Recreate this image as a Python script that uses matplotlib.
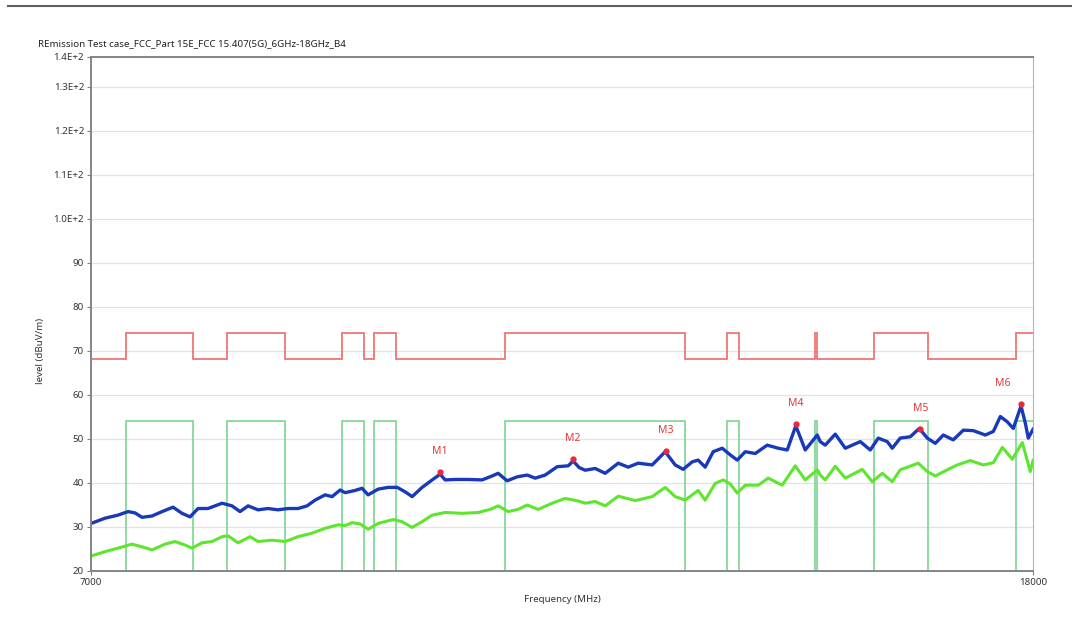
import numpy as np
import matplotlib
matplotlib.use("Agg")
import matplotlib.pyplot as plt
from matplotlib.lines import Line2D
from matplotlib.ticker import NullLocator

plt.rcParams["font.family"] = ["Noto Sans", "DejaVu Sans"]

# ---- data ----
title = "REmission Test case_FCC_Part 15E_FCC 15.407(5G)_6GHz-18GHz_B4"

# restricted bands (MHz): limit is 74 / 54 inside, 68.2 outside
band_lo = [7250, 8025, 9000, 9300, 10600, 13250, 14470, 15350, 17700]
band_hi = [7750, 8500, 9200, 9500, 12700, 13400, 14500, 16200, 18000]
peak_in, peak_out = 74.0, 68.2
avg_in, avg_out = 54.0, 0.0

peak_freq = [7000, 7099, 7192, 7265, 7316, 7367, 7442, 7517, 7600, 7669,
             7731, 7793, 7871, 7983, 8063, 8128, 8194, 8276, 8360, 8444,
             8529, 8615, 8693, 8763, 8852, 8914, 8986, 9031, 9122, 9186,
             9242, 9335, 9429, 9515, 9591, 9659, 9756, 9855, 9934, 9984,
             10085, 10217, 10361, 10466, 10529, 10624, 10732, 10840, 10927, 11037,
             11171, 11295, 11351, 11420, 11489, 11605, 11722, 11876, 11995, 12116,
             12287, 12449, 12574, 12675, 12790, 12867, 12958, 13062, 13181, 13287,
             13381, 13489, 13625, 13789, 13942, 14069, 14190, 14325, 14499, 14542,
             14615, 14763, 14912, 15138, 15290, 15413, 15553, 15631, 15757, 15916,
             16060, 16190, 16320, 16452, 16617, 16785, 16954, 17159, 17298, 17420,
             17542, 17648, 17785, 17862, 17915, 18000]
peak_val = [30.8, 32.0, 32.7, 33.5, 33.2, 32.2, 32.5, 33.5, 34.5, 33.1,
            32.3, 34.2, 34.2, 35.4, 34.8, 33.5, 34.8, 33.9, 34.2, 33.9,
            34.2, 34.2, 34.8, 36.1, 37.3, 36.9, 38.4, 37.8, 38.3, 38.8,
            37.3, 38.6, 39.0, 39.0, 38.0, 36.9, 39.0, 40.7, 42.0, 40.7,
            40.8, 40.8, 40.7, 41.6, 42.2, 40.5, 41.4, 41.8, 41.1, 41.8,
            43.7, 43.9, 45.0, 43.5, 42.9, 43.3, 42.2, 44.5, 43.6, 44.5,
            44.1, 47.1, 44.1, 43.1, 44.8, 45.2, 43.6, 47.1, 47.9, 46.4,
            45.2, 47.1, 46.7, 48.6, 47.9, 47.5, 53.0, 47.5, 50.9, 49.4,
            48.6, 51.1, 47.9, 49.4, 47.5, 50.2, 49.4, 47.9, 50.2, 50.5,
            52.4, 50.2, 49.0, 50.9, 49.8, 52.0, 51.9, 50.9, 51.7, 55.1,
            53.9, 52.4, 57.5, 53.6, 50.2, 52.2]

avg_freq = [7000, 7099, 7192, 7294, 7367, 7442, 7539, 7615, 7692, 7746,
            7824, 7903, 7983, 8031, 8112, 8210, 8276, 8393, 8504, 8615,
            8737, 8852, 8968, 9031, 9095, 9168, 9242, 9335, 9477, 9562,
            9659, 9756, 9855, 9984, 10156, 10320, 10445, 10529, 10635, 10742,
            10840, 10960, 11115, 11261, 11409, 11489, 11605, 11722, 11876, 12080,
            12287, 12449, 12574, 12700, 12867, 12958, 13088, 13194, 13287, 13381,
            13489, 13666, 13803, 13998, 14182, 14325, 14499, 14542, 14615, 14763,
            14912, 15168, 15321, 15475, 15631, 15757, 16044, 16190, 16320, 16518,
            16684, 16903, 17125, 17298, 17455, 17630, 17808, 17951, 18000]
avg_val = [23.4, 24.4, 25.2, 26.1, 25.5, 24.8, 26.1, 26.7, 25.9, 25.2,
           26.4, 26.7, 27.8, 28.0, 26.4, 27.8, 26.7, 27.0, 26.7, 27.8,
           28.6, 29.7, 30.5, 30.3, 31.0, 30.7, 29.5, 30.8, 31.7, 31.2,
           29.9, 31.2, 32.7, 33.3, 33.1, 33.3, 34.0, 34.8, 33.5, 34.0,
           35.0, 34.0, 35.4, 36.5, 35.9, 35.4, 35.8, 34.8, 37.0, 36.0,
           36.9, 39.0, 36.9, 36.1, 38.3, 36.1, 39.9, 40.7, 39.8, 37.7,
           39.5, 39.5, 41.1, 39.5, 43.9, 40.7, 43.0, 41.8, 40.7, 43.8,
           41.1, 43.1, 40.3, 42.2, 40.3, 43.0, 44.5, 42.6, 41.6, 43.0,
           44.1, 45.1, 44.1, 44.6, 48.1, 45.4, 49.2, 42.6, 45.1]

marker_names = ["M1", "M2", "M3", "M4", "M5", "M6"]
marker_freq = [9934, 11351, 12460, 14192, 16076, 17785]
marker_val = [42.4, 45.4, 47.2, 53.3, 52.2, 57.9]

y_ticks = [20, 30, 40, 50, 60, 70, 80, 90, 100, 110, 120, 130, 136.8]
y_labels = ["20", "30", "40", "50", "60", "70", "80", "90",
            "1.0E+2", "1.1E+2", "1.2E+2", "1.3E+2", "1.4E+2"]
x_ticks = [7000, 18000]
x_labels = ["7000", "18000"]

# ---- limit lines as stairs over band edges ----
edges = [7000]
peak_lim = []
avg_lim = []
for lo, hi in zip(band_lo, band_hi):
    if lo > edges[-1]:
        edges.append(lo)
        peak_lim.append(peak_out)
        avg_lim.append(avg_out)
    edges.append(hi)
    peak_lim.append(peak_in)
    avg_lim.append(avg_in)

# ---- figure ----
fig = plt.figure(figsize=(10.72, 6.35), dpi=100)
ax = fig.add_axes([91 / 1072, 1 - 571 / 635, 942 / 1072, 514 / 635])

ax.set_xscale("log")
ax.set_xlim(7000, 18000)
ax.set_ylim(20, 136.8)

ax.set_yticks(y_ticks)
ax.set_yticklabels(y_labels)
ax.set_xticks(x_ticks)
ax.set_xticklabels(x_labels)
ax.xaxis.set_minor_locator(NullLocator())
ax.grid(axis="y", color="#e3e3e3", lw=0.9)
ax.set_axisbelow(True)

ax.tick_params(axis="both", length=3, width=0.8, color="#808080",
               labelsize=7, labelcolor="#333333", pad=2)

for side in ["left", "bottom", "top"]:
    ax.spines[side].set_color("#858585")
    ax.spines[side].set_linewidth(1.4)
ax.spines["right"].set_color("#b5b5b5")
ax.spines["right"].set_linewidth(0.8)

ax.stairs(avg_lim, edges, color="#7ad690", lw=1.2, baseline=None)
ax.stairs(peak_lim, edges, color="#f06a6a", lw=1.2, baseline=None)

ax.plot(avg_freq, avg_val, color="#5ee62e", lw=2.2)
ax.plot(peak_freq, peak_val, color="#1a38ba", lw=2.4)

ax.plot(marker_freq, marker_val, ls="none", marker="o", ms=3.5,
        color="#e8283c", mec="#e8283c")
for i, name in enumerate(marker_names):
    dx = -13 if i == len(marker_names) - 1 else 0
    ax.annotate(name, (marker_freq[i], marker_val[i]), xytext=(dx, 15),
                textcoords="offset points", ha="center", va="center",
                fontsize=7.5, color="#e03c3c")

ax.set_xlabel("Frequency (MHz)", fontsize=7, color="#333333", labelpad=6)
fig.text(38 / 1072, 1 - 44 / 635, title, fontsize=7, color="#222222",
         ha="left", va="center")
fig.text(40 / 1072, 1 - 351 / 635, "level (dBuV/m)", fontsize=7,
         color="#333333", rotation=90, ha="center", va="center")

fig.add_artist(Line2D([8 / 1072, 1.0], [1 - 6 / 635] * 2,
                      transform=fig.transFigure, color="#606060", lw=1.5))

fig.savefig("out.png", dpi=100)
